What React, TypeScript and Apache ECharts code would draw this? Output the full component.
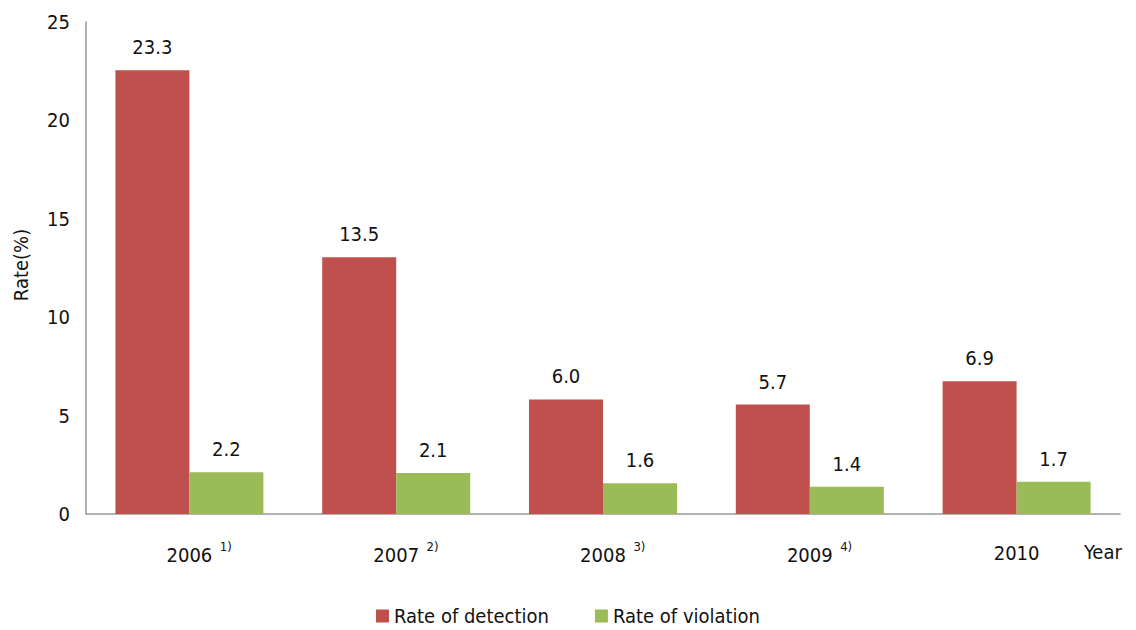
import React, { useEffect, useRef } from "react";
import * as echarts from "echarts";

const years = ["2006", "2007", "2008", "2009", "2010"];
const footnotes = ["1)", "2)", "3)", "4)", ""];
const detectionValues = [22.55, 13.05, 5.82, 5.56, 6.74];
const violationValues = [2.12, 2.08, 1.56, 1.39, 1.64];
const detectionLabels = ["23.3", "13.5", "6.0", "5.7", "6.9"];
const violationLabels = ["2.2", "2.1", "1.6", "1.4", "1.7"];
const yTicks = [0, 5, 10, 15, 20, 25];

const FONT = "'DejaVu Sans Condensed', 'DejaVu Sans', sans-serif";
const FS = 20;

export default function App() {
  const ref = useRef<HTMLDivElement>(null);
  useEffect(() => {
    const chart = echarts.init(ref.current!, null, { renderer: "svg" });
    chart.setOption({
      animation: false,
      backgroundColor: "#ffffff",
      textStyle: { fontFamily: FONT },
      grid: { left: 86, right: 16, top: 22, bottom: 116 },
      legend: {
        top: 601,
        left: "center",
        icon: "rect",
        itemWidth: 13,
        itemHeight: 13,
        itemGap: 46,
        itemTextGap: 5,
        textStyle: { fontSize: FS, color: "#111", fontFamily: FONT },
        data: ["Rate of detection", "Rate of violation"],
      },
      xAxis: {
        type: "category",
        data: years,
        axisLine: { lineStyle: { color: "#999", width: 1.5 } },
        axisTick: { show: false },
        axisLabel: {
          margin: 26,
          formatter: (v: string, i: number) =>
            footnotes[i]
              ? `{pad|}{y|${v}}{s|${footnotes[i]}}`
              : `{y|${v}}`,
          rich: {
            pad: { width: 20 },
            y: { fontSize: FS, color: "#111", fontFamily: FONT, lineHeight: 26 },
            s: {
              fontSize: 13,
              color: "#111",
              fontFamily: FONT,
              width: 13,
              padding: [0, 0, 17, 7],
            },
          },
        },
      },
      yAxis: {
        type: "value",
        min: yTicks[0],
        max: yTicks[yTicks.length - 1],
        interval: 5,
        axisLine: { show: true, lineStyle: { color: "#999", width: 1.5 } },
        axisTick: { show: false },
        splitLine: { show: false },
        axisLabel: { fontSize: FS, color: "#111", margin: 16, fontFamily: FONT },
      },
      graphic: [
        {
          type: "text",
          x: 21,
          y: 265,
          rotation: Math.PI / 2,
          style: {
            text: "Rate(%)",
            fontSize: FS,
            fontFamily: FONT,
            fill: "#111",
            align: "center",
            verticalAlign: "middle",
          },
        },
        {
          type: "text",
          x: 1084,
          y: 552,
          style: {
            text: "Year",
            fontSize: FS,
            fontFamily: FONT,
            fill: "#111",
            align: "left",
            verticalAlign: "middle",
          },
        },
      ],
      series: [
        {
          name: "Rate of detection",
          type: "bar",
          data: detectionValues,
          barWidth: 74,
          barGap: "0%",
          itemStyle: { color: "#C0504D" },
          label: {
            show: true,
            position: "top",
            distance: 13,
            fontSize: FS,
            color: "#111",
            fontFamily: FONT,
            formatter: (p: any) => detectionLabels[p.dataIndex],
          },
        },
        {
          name: "Rate of violation",
          type: "bar",
          data: violationValues,
          barWidth: 74,
          barGap: "0%",
          itemStyle: { color: "#9BBB59" },
          label: {
            show: true,
            position: "top",
            distance: 13,
            fontSize: FS,
            color: "#111",
            fontFamily: FONT,
            formatter: (p: any) => violationLabels[p.dataIndex],
          },
        },
      ],
    });
    return () => chart.dispose();
  }, []);
  return <div ref={ref} style={{ width: 1136, height: 630, position: "absolute", left: 0, top: 0 }} />;
}
